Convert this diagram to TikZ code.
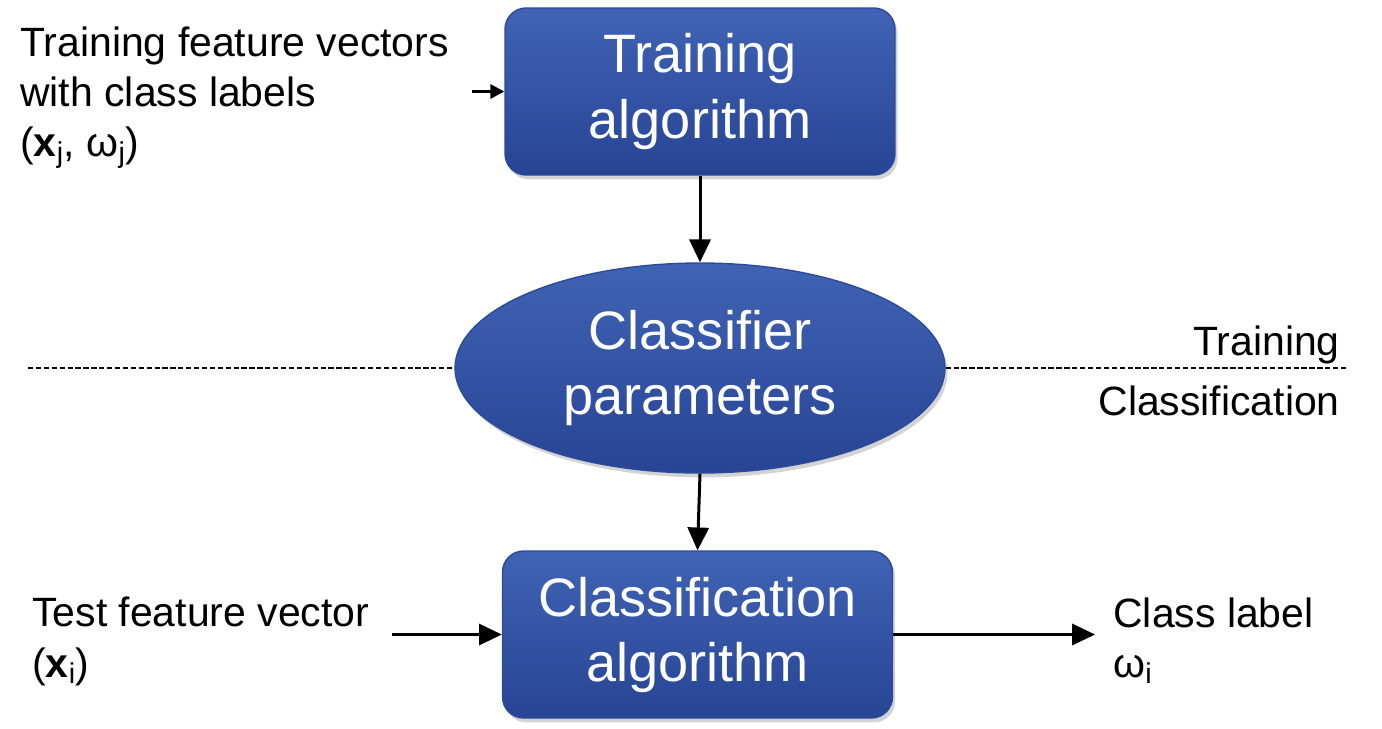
\documentclass[tikz,border=0pt]{standalone}
\usepackage{fontspec}
\setmainfont{Liberation Sans}
\usetikzlibrary{arrows.meta}
\usetikzlibrary{shapes.geometric}
\usetikzlibrary{shadows}

\begin{document}
\begin{tikzpicture}[x=0.02cm,y=-0.02cm]
    \definecolor{boxtop}{RGB}{64,99,180}
    \definecolor{boxbot}{RGB}{40,68,148}
    \definecolor{boxline}{RGB}{44,74,156}
    \tikzset{
      bluefill/.style={draw=boxline, line width=0.8pt, top color=boxtop, bottom color=boxbot, text=white,
        align=center, font=\fontsize{30.8}{37}\selectfont,
        drop shadow={opacity=0.35, shadow xshift=1.5pt, shadow yshift=-2.5pt}},
      algbox/.style={bluefill, rectangle, rounded corners=0.42cm, minimum width=7.8cm, minimum height=3.34cm},
      paramell/.style={bluefill, ellipse, minimum width=9.8cm, minimum height=4.2cm, inner sep=0pt},
      sidetext/.style={align=left, inner sep=0pt, font=\fontsize{23.3}{28.5}\selectfont},
      flow/.style={line width=1.7pt, -{Triangle[length=13pt,width=12pt]}}
    }
    \useasboundingbox (0,0) rectangle (1382,728);  %Rand
    \node[algbox] (train) at (700,91.5) {Training\\algorithm};  %obere Box
    \node[paramell] (params) at (700,368) {Classifier\\parameters};  %Ellipse
    \node[algbox] (clsalg) at (697.5,634.5) {Classification\\algorithm};  %untere Box
    \node[sidetext, anchor=north west] (trainin) at (20,26)
      {Training feature vectors\\with class labels\\(\textbf{x}\textsubscript{j}, ω\textsubscript{j})};
    \node[sidetext, anchor=north west] (testin) at (32,597) {Test feature vector\\(\textbf{x}\textsubscript{i})};
    \node[sidetext, anchor=north west] (labelout) at (1113,597) {Class label\\ω\textsubscript{i}};
    \node[sidetext, anchor=base east] (trainlbl) at (1340,355) {Training};
    \node[sidetext, anchor=base east] (clslbl) at (1340,415) {Classification};
    \coordinate (trstart) at (472,91.5);
    \coordinate (tststart) at (392,634.5);
    \coordinate (clsend) at (1095,634.5);
    \coordinate (dashl) at (28,368);
    \coordinate (dashr) at (1348,368);
    \draw[flow, -{Triangle[length=8pt,width=8pt]}] (trstart) -- (train.west);  %kurzer Pfeil
    \draw[flow] (train.south) -- (params.north);
    \draw[flow] (params.south) -- (clsalg.north);
    \draw[flow] (tststart) -- (clsalg.west);
    \draw[flow] (clsalg.east) -- (clsend);
    \draw[dashed, line width=0.6pt, dash pattern=on 3pt off 1.5pt] (dashl) -- (params.west);  %Trennlinie
    \draw[dashed, line width=0.6pt, dash pattern=on 3pt off 1.5pt] (params.east) -- (dashr);
\end{tikzpicture}
\end{document}
